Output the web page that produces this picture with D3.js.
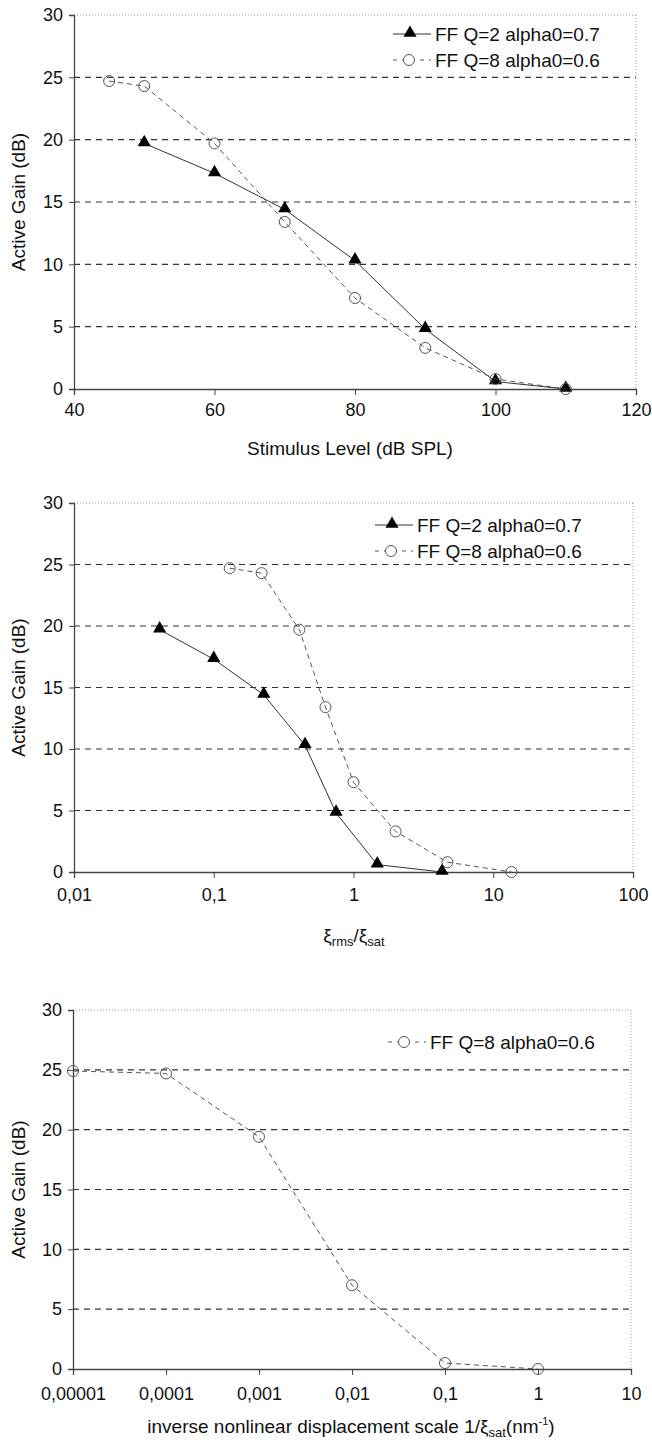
<!DOCTYPE html>
<html><head><meta charset="utf-8">
<script src="https://cdn.jsdelivr.net/npm/d3@7"></script>
<style>body{margin:0;background:#fff;} text{font-family:"Liberation Sans",Arial,sans-serif;fill:#111;}</style>
</head><body><svg id="c" width="652" height="1442"></svg>
<script>
// ---- data ----
const yTicks = [0,5,10,15,20,25,30];
const p1XTicks = [40,60,80,100,120];
const p1A_x = [50,60,70,80,90,100,110];
const p1A_y = [19.7,17.3,14.4,10.3,4.8,0.6,0.0];
const p1B_x = [45,50,60,70,80,90,100,110];
const p1B_y = [24.7,24.3,19.7,13.4,7.3,3.3,0.8,0.0];

const p2XTicks = [0.01,0.1,1,10,100];
const p2XLabels = ["0,01","0,1","1","10","100"];
const p2A_x = [0.041,0.1,0.228,0.45,0.75,1.48,4.3];
const p2A_y = [19.7,17.3,14.4,10.3,4.8,0.6,0.0];
const p2B_x = [0.13,0.22,0.41,0.63,1.0,2.0,4.7,13.5];
const p2B_y = [24.7,24.3,19.7,13.4,7.3,3.3,0.8,0.0];

const p3XTicks = [0.00001,0.0001,0.001,0.01,0.1,1,10];
const p3XLabels = ["0,00001","0,0001","0,001","0,01","0,1","1","10"];
const p3B_x = [0.00001,0.0001,0.001,0.01,0.1,1];
const p3B_y = [24.9,24.7,19.4,7.0,0.5,0.0];

const legendA = "FF Q=2 alpha0=0.7";
const legendB = "FF Q=8 alpha0=0.6";

const svg = d3.select("#c");
const FS_TICK = 18, FS_LEG = 19, FS_LAB = 19;

function panel(cfg){
  const g = svg.append("g");
  const x = cfg.x, y = cfg.y;
  const [x0,x1] = x.range(), [y0,y1] = y.range();
  g.append("line").attr("x1",x0).attr("x2",x1).attr("y1",y1).attr("y2",y1)
    .attr("stroke","#999").attr("stroke-dasharray","1,2");
  g.append("line").attr("x1",x1).attr("x2",x1).attr("y1",y1).attr("y2",y0)
    .attr("stroke","#999").attr("stroke-dasharray","1,2");
  g.selectAll(".grid").data(yTicks.filter(d=>d>0&&d<30)).enter().append("line")
    .attr("x1",x0).attr("x2",x1).attr("y1",d=>y(d)).attr("y2",d=>y(d))
    .attr("stroke","#333").attr("stroke-width",1.2).attr("stroke-dasharray","6,5");
  const ya = d3.axisLeft(y).tickValues(yTicks).tickSize(5).tickPadding(6).tickFormat(d3.format("d"));
  const gy = g.append("g").attr("transform",`translate(${x0},0)`).call(ya);
  gy.select(".domain").attr("stroke","#444").attr("stroke-width",1.3);
  gy.selectAll(".tick line").attr("stroke","#444");
  const xa = d3.axisBottom(x).tickValues(cfg.xTicks).tickSize(6).tickPadding(cfg.xPad)
    .tickFormat((d,i)=>cfg.xLabels ? cfg.xLabels[i] : d);
  const gx = g.append("g").attr("transform",`translate(0,${y0})`).call(xa);
  gx.select(".domain").attr("stroke","#444").attr("stroke-width",1.3);
  gx.selectAll(".tick line").attr("stroke","#444");
  [gx,gy].forEach(a=>{
    a.attr("font-family",null).attr("font-size",null);
    a.selectAll("text").attr("font-size",FS_TICK).attr("fill","#111");
  });
  g.append("text").attr("transform",`translate(25,${(y0+y1)/2}) rotate(-90)`)
    .attr("text-anchor","middle").attr("font-size",FS_LAB).text("Active Gain (dB)");
  const line = d3.line().x(d=>x(d[0])).y(d=>y(d[1]));
  cfg.series.forEach(s=>{
    const pts = s.x.map((v,i)=>[v,s.y[i]]);
    g.append("path").attr("d",line(pts)).attr("fill","none")
      .attr("stroke",s.tri?"#333":"#555").attr("stroke-width",1)
      .attr("stroke-dasharray",s.tri?null:"5,4");
    pts.forEach(p=>{
      if(s.tri){
        g.append("path").attr("d",d3.symbol(d3.symbolTriangle,75)())
          .attr("transform",`translate(${x(p[0])},${y(p[1])-1})`).attr("fill","#000");
      } else {
        g.append("circle").attr("cx",x(p[0])).attr("cy",y(p[1])).attr("r",5.5)
          .attr("fill","none").attr("stroke","#555").attr("stroke-width",1);
      }
    });
  });
  cfg.series.forEach((s,i)=>{
    const ly = cfg.legY + i*26, lx = cfg.legX;
    g.append("line").attr("x1",lx).attr("x2",lx+38).attr("y1",ly).attr("y2",ly)
      .attr("stroke",s.tri?"#333":"#555").attr("stroke-dasharray",s.tri?null:"4,5");
    if(s.tri) g.append("path").attr("d",d3.symbol(d3.symbolTriangle,75)())
      .attr("transform",`translate(${lx+17},${ly-1})`).attr("fill","#000");
    else g.append("circle").attr("cx",lx+16).attr("cy",ly).attr("r",5.5)
      .attr("fill","#fff").attr("stroke","#555");
    g.append("text").attr("x",lx+42).attr("y",ly+7).attr("font-size",FS_LEG).text(s.name);
  });
  return g;
}

// Panel 1
const g1 = panel({
  x: d3.scaleLinear().domain([40,120]).range([74,636]),
  y: d3.scaleLinear().domain([0,30]).range([389,15]),
  xTicks: p1XTicks, xPad: 8,
  series: [{x:p1A_x,y:p1A_y,tri:true,name:legendA},{x:p1B_x,y:p1B_y,tri:false,name:legendB}],
  legX: 393, legY: 34
});
g1.append("text").attr("x",350).attr("y",455).attr("text-anchor","middle").attr("font-size",FS_LAB)
  .text("Stimulus Level (dB SPL)");

// Panel 2
const g2 = panel({
  x: d3.scaleLog().domain([0.01,100]).range([74,633]),
  y: d3.scaleLinear().domain([0,30]).range([872,503]),
  xTicks: p2XTicks, xLabels: p2XLabels, xPad: 10,
  series: [{x:p2A_x,y:p2A_y,tri:true,name:legendA},{x:p2B_x,y:p2B_y,tri:false,name:legendB}],
  legX: 375, legY: 525
});
const t2 = g2.append("text").attr("x",354).attr("y",942).attr("text-anchor","middle").attr("font-size",FS_LAB);
t2.append("tspan").text("ξ");
t2.append("tspan").attr("font-size",13).attr("dy",4).text("rms");
t2.append("tspan").attr("dy",-4).text("/ξ");
t2.append("tspan").attr("font-size",13).attr("dy",4).text("sat");

// Panel 3
const g3 = panel({
  x: d3.scaleLog().domain([0.00001,10]).range([73,631]),
  y: d3.scaleLinear().domain([0,30]).range([1369,1010]),
  xTicks: p3XTicks, xLabels: p3XLabels, xPad: 12,
  series: [{x:p3B_x,y:p3B_y,tri:false,name:legendB}],
  legX: 388, legY: 1042
});
const t3 = g3.append("text").attr("x",351).attr("y",1433).attr("text-anchor","middle").attr("font-size",FS_LAB);
t3.append("tspan").text("inverse nonlinear displacement scale 1/ξ");
t3.append("tspan").attr("font-size",13).attr("dy",4).text("sat");
t3.append("tspan").attr("dy",-4).text("(nm");
t3.append("tspan").attr("font-size",11).attr("dy",-8).text("-1");
t3.append("tspan").attr("dy",8).text(")");
</script></body></html>
